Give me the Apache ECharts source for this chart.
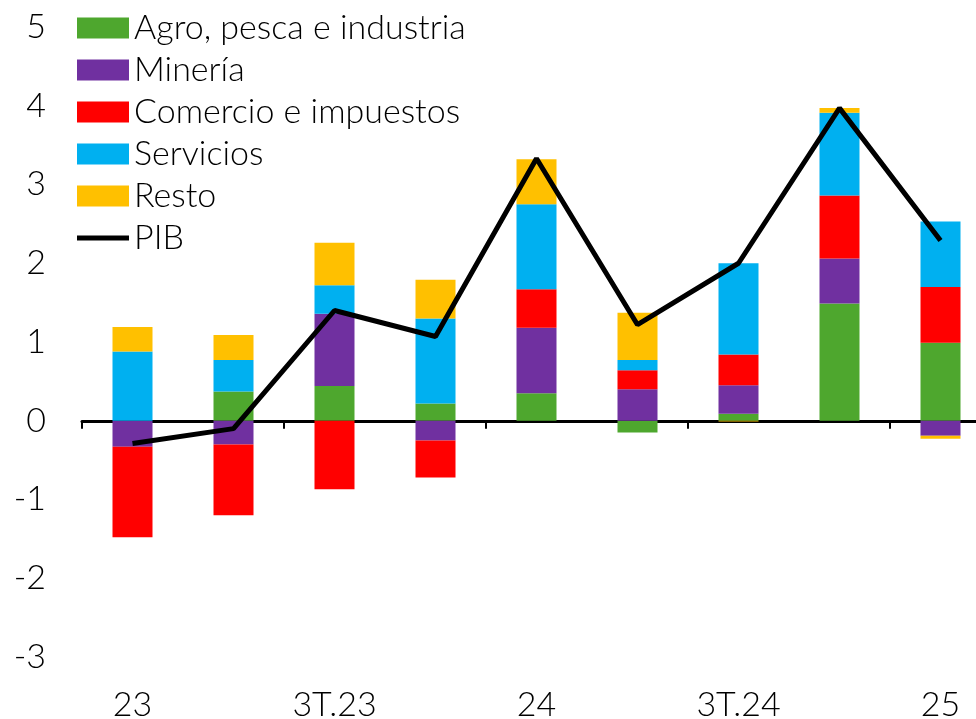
<!DOCTYPE html>
<html>
<head>
<meta charset="utf-8">
<script src="https://cdn.jsdelivr.net/npm/echarts@6/dist/echarts.min.js"></script>
<style>
  html, body { margin: 0; padding: 0; background: #fff; }
  #chart { width: 976px; height: 719px; }
</style>
</head>
<body>
<div id="chart"></div>
<script>
// trimestres (solo se rotula uno de cada dos)
const categories = ['23', '2T.23', '3T.23', '4T.23', '24', '2T.24', '3T.24', '4T.24', '25'];

// contribuciones al crecimiento (pp)
const agro = [0, 0.37, 0.44, 0.22, 0.35, -0.15, 0.09, 1.49, 0.99];
const mineria = [-0.33, -0.30, 0.92, -0.25, 0.83, 0.40, 0.36, 0.57, -0.19];
const comercio = [-1.15, -0.90, -0.87, -0.47, 0.49, 0.24, 0.39, 0.80, 0.71];
const servicios = [0.88, 0.40, 0.36, 1.08, 1.08, 0.13, 1.16, 1.05, 0.83];
const resto = [0.31, 0.32, 0.54, 0.49, 0.57, 0.60, -0.01, 0.06, -0.04];
const pib = [-0.29, -0.10, 1.40, 1.07, 3.33, 1.22, 2.00, 3.97, 2.29];

const FONT = 'Lato';
const FONT_SIZE = 34;

const chart = echarts.init(document.getElementById('chart'));

function barSerie(name, data, color) {
  return {
    name: name,
    type: 'bar',
    stack: 'total',
    barWidth: 40,
    data: data,
    itemStyle: { color: color },
    emphasis: { disabled: true },
  };
}

const option = {
  animation: false,
  textStyle: { fontFamily: FONT },
  legend: {
    orient: 'vertical',
    left: 72,
    top: 6,
    itemWidth: 52,
    itemHeight: 21,
    itemGap: 8,
    symbolKeepAspect: true,
    textStyle: {
      fontFamily: FONT,
      fontWeight: 300,
      fontSize: FONT_SIZE,
      color: '#000',
    },
    data: [
      { name: 'Agro, pesca e industria', icon: 'rect' },
      { name: 'Minería', icon: 'rect' },
      { name: 'Comercio e impuestos', icon: 'rect' },
      { name: 'Servicios', icon: 'rect' },
      { name: 'Resto', icon: 'rect' },
      { name: 'PIB', icon: 'path://M0,0L52,0L52,5L0,5Z' },
    ],
  },
  grid: {
    left: 82,
    top: 27,
    width: 909,
    height: 630,
    outerBoundsMode: 'none',
  },
  xAxis: [
    {
      type: 'category',
      data: categories,
      axisLine: { onZero: true, lineStyle: { color: '#000', width: 3 } },
      axisTick: { show: true, interval: 1, length: 8, lineStyle: { color: '#000', width: 2 } },
      axisLabel: { show: false },
    },
    {
      type: 'category',
      data: categories,
      position: 'bottom',
      axisLine: { show: false, onZero: false },
      axisTick: { show: false },
      axisLabel: {
        interval: 1,
        margin: 31,
        fontFamily: FONT,
        fontWeight: 300,
        fontSize: FONT_SIZE,
        color: '#000',
      },
    },
  ],
  yAxis: {
    type: 'value',
    min: -3,
    max: 5,
    interval: 1,
    axisLine: { show: false },
    axisTick: { show: false },
    splitLine: { show: false },
    axisLabel: {
      margin: 36,
      fontFamily: FONT,
      fontWeight: 300,
      fontSize: FONT_SIZE,
      color: '#000',
    },
  },
  series: [
    barSerie('Agro, pesca e industria', agro, '#4EA72E'),
    barSerie('Minería', mineria, '#7030A0'),
    barSerie('Comercio e impuestos', comercio, '#FF0000'),
    barSerie('Servicios', servicios, '#00B0F0'),
    barSerie('Resto', resto, '#FFC000'),
    {
      name: 'PIB',
      type: 'line',
      data: pib,
      symbol: 'none',
      z: 10,
      lineStyle: { color: '#000', width: 5 },
      itemStyle: { color: '#000' },
      emphasis: { disabled: true },
    },
  ],
};

chart.setOption(option);
</script>
</body>
</html>
